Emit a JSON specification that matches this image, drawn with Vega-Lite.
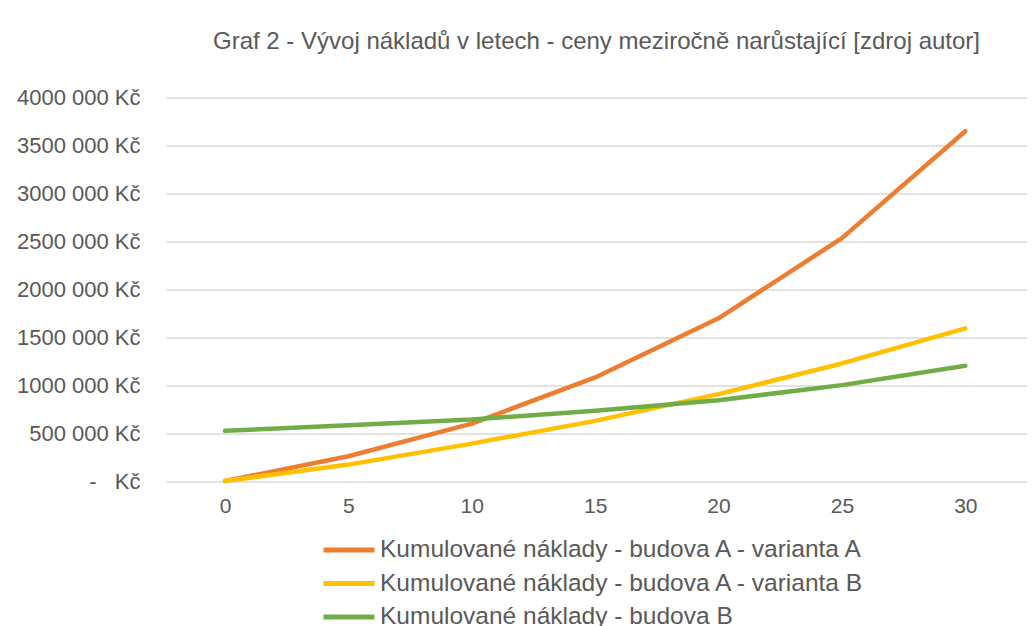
{
  "$schema": "https://vega.github.io/schema/vega-lite/v6.json",
  "width": 861,
  "height": 383.5,
  "autosize": {"type": "none"},
  "padding": {"left": 166, "top": 97.5, "right": 5, "bottom": 145},
  "background": "white",
  "title": {
    "text": "Graf 2 - Vývoj nákladů v letech - ceny meziročně narůstající [zdroj autor]",
    "font": "Liberation Sans",
    "fontSize": 24,
    "fontWeight": "normal",
    "color": "#595959",
    "anchor": "middle",
    "offset": 33
  },
  "data": {
    "values": [
      {"rok": 0, "naklady": 0, "serie": "Kumulované náklady - budova A - varianta A"},
      {"rok": 5, "naklady": 258000, "serie": "Kumulované náklady - budova A - varianta A"},
      {"rok": 10, "naklady": 599000, "serie": "Kumulované náklady - budova A - varianta A"},
      {"rok": 15, "naklady": 1080000, "serie": "Kumulované náklady - budova A - varianta A"},
      {"rok": 20, "naklady": 1697000, "serie": "Kumulované náklady - budova A - varianta A"},
      {"rok": 25, "naklady": 2533000, "serie": "Kumulované náklady - budova A - varianta A"},
      {"rok": 30, "naklady": 3648000, "serie": "Kumulované náklady - budova A - varianta A"},
      {"rok": 0, "naklady": 0, "serie": "Kumulované náklady - budova A - varianta B"},
      {"rok": 5, "naklady": 171000, "serie": "Kumulované náklady - budova A - varianta B"},
      {"rok": 10, "naklady": 390000, "serie": "Kumulované náklady - budova A - varianta B"},
      {"rok": 15, "naklady": 627000, "serie": "Kumulované náklady - budova A - varianta B"},
      {"rok": 20, "naklady": 906000, "serie": "Kumulované náklady - budova A - varianta B"},
      {"rok": 25, "naklady": 1226000, "serie": "Kumulované náklady - budova A - varianta B"},
      {"rok": 30, "naklady": 1592000, "serie": "Kumulované náklady - budova A - varianta B"},
      {"rok": 0, "naklady": 523000, "serie": "Kumulované náklady - budova B"},
      {"rok": 5, "naklady": 582000, "serie": "Kumulované náklady - budova B"},
      {"rok": 10, "naklady": 641000, "serie": "Kumulované náklady - budova B"},
      {"rok": 15, "naklady": 732000, "serie": "Kumulované náklady - budova B"},
      {"rok": 20, "naklady": 843000, "serie": "Kumulované náklady - budova B"},
      {"rok": 25, "naklady": 1000000, "serie": "Kumulované náklady - budova B"},
      {"rok": 30, "naklady": 1202000, "serie": "Kumulované náklady - budova B"}
    ]
  },
  "mark": {"type": "line", "strokeWidth": 4.5, "strokeCap": "round", "strokeJoin": "round"},
  "encoding": {
    "x": {
      "field": "rok",
      "type": "quantitative",
      "scale": {"domain": [-2.39, 32.5], "nice": false, "zero": false},
      "axis": {
        "values": [0, 5, 10, 15, 20, 25, 30],
        "title": null,
        "grid": false,
        "domain": false,
        "ticks": false,
        "labelPadding": 14,
        "labelFont": "Liberation Sans",
        "labelFontSize": 21,
        "labelColor": "#595959"
      }
    },
    "y": {
      "field": "naklady",
      "type": "quantitative",
      "scale": {"domain": [0, 4000000], "nice": false},
      "axis": {
        "values": [0, 500000, 1000000, 1500000, 2000000, 2500000, 3000000, 3500000, 4000000],
        "title": null,
        "domain": false,
        "ticks": false,
        "grid": true,
        "gridColor": "#D9D9D9",
        "gridWidth": 1.5,
        "labelPadding": 26,
        "labelFont": "Liberation Sans",
        "labelFontSize": 22,
        "labelColor": "#595959",
        "labelExpr": "datum.value == 0 ? '-\u00a0\u00a0\u00a0Kč' : (datum.value / 1000) + ' 000 Kč'"
      }
    },
    "color": {
      "field": "serie",
      "type": "nominal",
      "scale": {
        "domain": ["Kumulované náklady - budova A - varianta A", "Kumulované náklady - budova A - varianta B", "Kumulované náklady - budova B"],
        "range": ["#ED7D31", "#FFC000", "#70AD47"]
      },
      "legend": {
        "title": null,
        "orient": "none",
        "legendX": 155,
        "legendY": 440.5,
        "direction": "vertical",
        "symbolType": "stroke",
        "symbolSize": 2601,
        "symbolStrokeWidth": 5,
        "labelFont": "Liberation Sans",
        "labelFontSize": 24.5,
        "labelColor": "#595959",
        "labelOffset": 3,
        "clipHeight": 24,
        "rowPadding": 8.5,
        "labelLimit": 700
      }
    }
  },
  "config": {"view": {"stroke": null}}
}
